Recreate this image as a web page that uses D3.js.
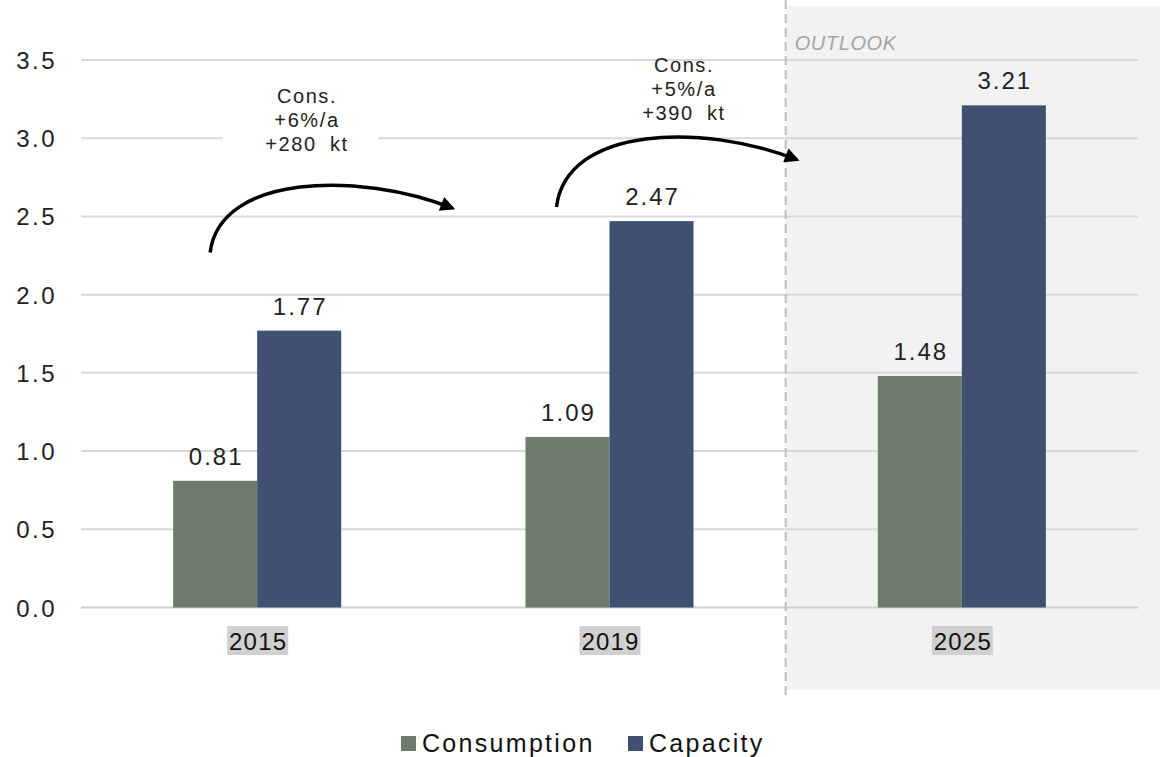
<!DOCTYPE html>
<html>
<head>
<meta charset="utf-8">
<script src="https://cdn.jsdelivr.net/npm/d3@7"></script>
<style>
  body { margin: 0; background: #fff; }
  svg { display: block; font-family: "Liberation Sans", Arial, sans-serif; }
</style>
</head>
<body>
<div id="wrapper"></div>
<script>
// Data
var years = ["2015", "2019", "2025"];
var seriesNames = ["Consumption", "Capacity"];
var consumption = [0.81, 1.09, 1.48];
var capacity = [1.77, 2.47, 3.21];
var yTicks = [0, 0.5, 1, 1.5, 2, 2.5, 3, 3.5];
var outlookYear = "2025";
// annotation arrows: from year/value to year/value, with peak value
var arrowFrom = [{year: "2015", dx: 37, v: 2.27}, {year: "2019", dx: 31, v: 2.56}];
var arrowTo = [{year: "2019", dx: -67, v: 2.54}, {year: "2025", dx: -75, v: 2.85}];
var arrowPeak = [2.71, 3.02];
var annoLines = [["Cons.", "+6%/a", "+280 kt"], ["Cons.", "+5%/a", "+390 kt"]];

var width = 1160, height = 757;
var margin = {left: 81, right: 22, top: 60, bottom: 149};
var colors = {"Consumption": "#6f7b6c", "Capacity": "#3f5070"};

var svg = d3.select("#wrapper").append("svg")
    .attr("width", width)
    .attr("height", height);

var x = d3.scaleBand()
    .domain(years)
    .range([margin.left, width - margin.right])
    .paddingInner(0.523)
    .paddingOuter(0.2615);

var xs = d3.scaleBand()
    .domain(seriesNames)
    .range([0, x.bandwidth()]);

var y = d3.scaleLinear()
    .domain([0, 3.5])
    .range([height - margin.bottom - 0.5, margin.top]);

// Outlook shaded area
var split = (x("2019") + x.bandwidth() + x(outlookYear)) / 2;
svg.append("rect")
    .attr("x", split)
    .attr("y", 6)
    .attr("width", width - split)
    .attr("height", 684)
    .attr("fill", "#f2f2f2");

// Gridlines
svg.append("g").selectAll("line")
    .data(yTicks)
    .enter()
    .append("line")
    .attr("x1", margin.left)
    .attr("x2", width - margin.right)
    .attr("y1", function(d) { return y(d); })
    .attr("y2", function(d) { return y(d); })
    .attr("stroke", function(d) { return d === 0 ? "#d0d0d0" : "#d9d9d9"; })
    .attr("stroke-width", 2);

// Y labels
svg.append("g").selectAll("text")
    .data(yTicks)
    .enter()
    .append("text")
    .text(function(d) { return d3.format(".1f")(d); })
    .attr("x", 57)
    .attr("y", function(d) { return y(d) + 9; })
    .attr("text-anchor", "end")
    .style("font-size", "24px")
    .style("letter-spacing", "2.5px")
    .attr("fill", "#222");

// Dashed separator
svg.append("line")
    .attr("x1", split).attr("x2", split)
    .attr("y1", 0).attr("y2", 696)
    .attr("stroke", "#bdbdbd")
    .attr("stroke-width", 2)
    .attr("stroke-dasharray", "9,5");

svg.append("text")
    .text("OUTLOOK")
    .attr("x", split + 9)
    .attr("y", 50)
    .style("font-size", "20px")
    .style("font-style", "italic")
    .style("letter-spacing", "0.6px")
    .attr("fill", "#a6a6a6");

// Bars
var rows = years.map(function(yr, i) {
    return [{year: yr, name: "Consumption", value: consumption[i]},
            {year: yr, name: "Capacity", value: capacity[i]}];
});
var flat = [].concat.apply([], rows);

svg.append("g").selectAll("rect")
    .data(flat)
    .enter()
    .append("rect")
    .attr("x", function(d) { return x(d.year) + xs(d.name); })
    .attr("y", function(d) { return y(d.value); })
    .attr("width", xs.bandwidth())
    .attr("height", function(d) { return y(0) - y(d.value); })
    .attr("fill", function(d) { return colors[d.name]; });

// Value labels
svg.append("g").selectAll("text")
    .data(flat)
    .enter()
    .append("text")
    .text(function(d) { return d3.format(".2f")(d.value); })
    .attr("x", function(d) { return x(d.year) + xs(d.name) + xs.bandwidth() / 2 + 1; })
    .attr("y", function(d) { return y(d.value) - 16; })
    .attr("text-anchor", "middle")
    .style("font-size", "24px")
    .style("letter-spacing", "2px")
    .attr("fill", "#222");

// Category labels with highlight
var cats = svg.append("g").selectAll("g")
    .data(years)
    .enter()
    .append("g")
    .attr("transform", function(d) { return "translate(" + (x(d) + x.bandwidth() / 2) + ",0)"; });

cats.append("rect")
    .attr("x", -30)
    .attr("y", 626)
    .attr("width", 61)
    .attr("height", 29)
    .attr("fill", "#d0d0d0");

cats.append("text")
    .text(function(d) { return d; })
    .attr("x", 1)
    .attr("y", 650)
    .attr("text-anchor", "middle")
    .style("font-size", "24px")
    .style("letter-spacing", "1.2px")
    .attr("fill", "#111");

// Arrows
var defs = svg.append("defs");
defs.append("marker")
    .attr("id", "head")
    .attr("viewBox", "0 0 10 10")
    .attr("refX", 8)
    .attr("refY", 5)
    .attr("markerWidth", 5.2)
    .attr("markerHeight", 4.2)
    .attr("markerUnits", "strokeWidth")
    .attr("orient", "auto")
    .append("path")
    .attr("d", "M0,0 L10,5 L0,10 Z")
    .attr("fill", "#000");

// white box behind first annotation
var annoX = [307, 684];
var annoY = [103, 72];
svg.append("rect")
    .attr("x", 223)
    .attr("y", 82)
    .attr("width", 155)
    .attr("height", 78)
    .attr("fill", "#fff");

arrowFrom.forEach(function(f, i) {
    var t = arrowTo[i];
    var x0 = x(f.year) + f.dx, y0 = y(f.v);
    var x1 = x(t.year) + t.dx, y1 = y(t.v);
    var yp = y(arrowPeak[i]);
    var path = "M" + x0 + "," + y0 +
        " C" + (x0 + 10) + "," + (yp - 10) + " " + (x0 + (x1 - x0) * 0.6) + "," + (yp - 12) + " " + (x1 - 6) + "," + (y1 - 2);
    svg.append("path")
        .attr("d", path)
        .attr("fill", "none")
        .attr("stroke", "#000")
        .attr("stroke-width", 3.5)
        .attr("marker-end", "url(#head)");
});

// Annotation texts
annoLines.forEach(function(lines, i) {
    svg.append("g").selectAll("text")
        .data(lines)
        .enter()
        .append("text")
        .text(function(d) { return d; })
        .attr("x", annoX[i])
        .attr("y", function(d, j) { return annoY[i] + j * 24; })
        .attr("text-anchor", "middle")
        .style("font-size", "20px")
        .style("letter-spacing", "1.6px")
        .style("word-spacing", "6px")
        .attr("fill", "#222");
});

// Legend
var legend = svg.append("g").selectAll("g")
    .data(seriesNames)
    .enter()
    .append("g")
    .attr("transform", function(d, i) { return "translate(" + (i === 0 ? 401 : 628) + ",736)"; });

legend.append("rect")
    .attr("width", 15)
    .attr("height", 15)
    .attr("fill", function(d) { return colors[d]; });

legend.append("text")
    .text(function(d) { return d; })
    .attr("x", 21)
    .attr("y", 16)
    .style("font-size", "25px")
    .style("letter-spacing", "2.3px")
    .attr("fill", "#111");
</script>
</body>
</html>
